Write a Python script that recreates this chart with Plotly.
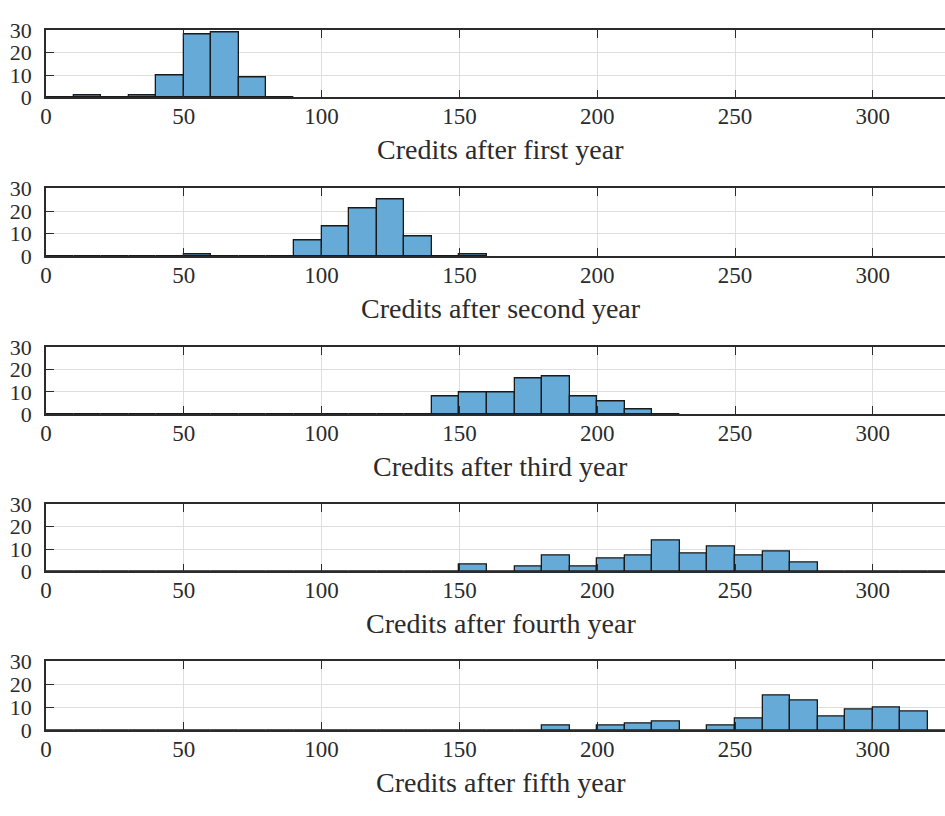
import numpy as np
import plotly.graph_objects as go

# Histogram counts of accumulated credits, bins of width 10 starting at 0
BIN_WIDTH = 10

first_year = [0, 1, 0, 1, 10, 28, 29, 9, 0]
second_year = [0, 0, 0, 0, 0, 1, 0, 0, 0, 7, 13, 21, 25, 9, 0, 1]
third_year = [0, 0, 0, 0, 0, 0, 0, 0, 0, 0, 0, 0, 0, 0,
              8, 10, 10, 16, 17, 8, 6, 2, 0]
fourth_year = [0, 0, 0, 0, 0, 0, 0, 0, 0, 0, 0, 0, 0, 0, 0,
               3, 0, 2, 7, 2, 6, 7, 14, 8, 11, 7, 9, 4, 0, 0, 0, 0, 0]
fifth_year = [0, 0, 0, 0, 0, 0, 0, 0, 0, 0, 0, 0, 0, 0, 0, 0, 0, 0,
              2, 0, 2, 3, 4, 0, 2, 5, 15, 13, 6, 9, 10, 8, 0]

series = [first_year, second_year, third_year, fourth_year, fifth_year]
x_labels = [
    "Credits after first year",
    "Credits after second year",
    "Credits after third year",
    "Credits after fourth year",
    "Credits after fifth year",
]
x_ticks = [0, 50, 100, 150, 200, 250, 300]
y_ticks = [0, 10, 20, 30]

W, H = 945, 816
LEFT = 46
# top / bottom pixel rows of each axes box
boxes = [(19, 88), (182, 252), (346, 415), (508, 577), (670, 741)]
PX_PER_UNIT = 2.756
X_MAX = (W - LEFT) / PX_PER_UNIT
X_CENTER = 165  # centre of the full 0..330 axis

FONT = "Liberation Serif"
TXT = "#2b2b2b"
BAR_FILL = "rgb(102,170,215)"
EDGE = "#1a1a1a"
GRID = "#dedede"

fig = go.Figure()
for i, counts in enumerate(series):
    n = i + 1
    xa = "x" if n == 1 else f"x{n}"
    ya = "y" if n == 1 else f"y{n}"
    centers = (np.arange(len(counts)) + 0.5) * BIN_WIDTH
    fig.add_trace(go.Bar(
        x=centers, y=counts, width=BIN_WIDTH,
        marker=dict(color=BAR_FILL, line=dict(color=EDGE, width=1.3)),
        xaxis=xa, yaxis=ya, showlegend=False,
    ))
    top, bottom = boxes[i]
    dom = [1 - bottom / H, 1 - top / H]
    key = "" if n == 1 else str(n)
    fig.layout[f"xaxis{key}"] = dict(
        domain=[0, 1], anchor=ya, range=[0, X_MAX],
        tickvals=x_ticks, ticks="inside", ticklen=8, tickwidth=1.2,
        tickcolor=TXT, showline=True, linecolor=TXT, linewidth=1.6,
        mirror="ticks", showgrid=True, gridcolor=GRID, gridwidth=1,
        zeroline=False, ticklabelstandoff=-3,
        tickfont=dict(family=FONT, size=23, color=TXT),
    )
    fig.layout[f"yaxis{key}"] = dict(
        domain=dom, anchor=xa, range=[0, 30],
        tickvals=y_ticks, ticks="inside", ticklen=8, tickwidth=1.2,
        tickcolor=TXT, showline=True, linecolor=TXT, linewidth=1.6,
        showgrid=True, gridcolor=GRID, gridwidth=1, zeroline=False,
        ticklabelstandoff=8,
        tickfont=dict(family=FONT, size=22, color=TXT),
    )
    fig.add_annotation(
        x=X_CENTER, xref=xa, y=1 - (bottom + 54) / H, yref="paper",
        text=x_labels[i], showarrow=False, xanchor="center", yanchor="middle",
        font=dict(family=FONT, size=28, color=TXT),
    )

fig.update_layout(
    width=W, height=H,
    margin=dict(l=LEFT, r=0, t=0, b=0),
    plot_bgcolor="white", paper_bgcolor="white",
    bargap=0,
)

fig.write_html("out.html")
